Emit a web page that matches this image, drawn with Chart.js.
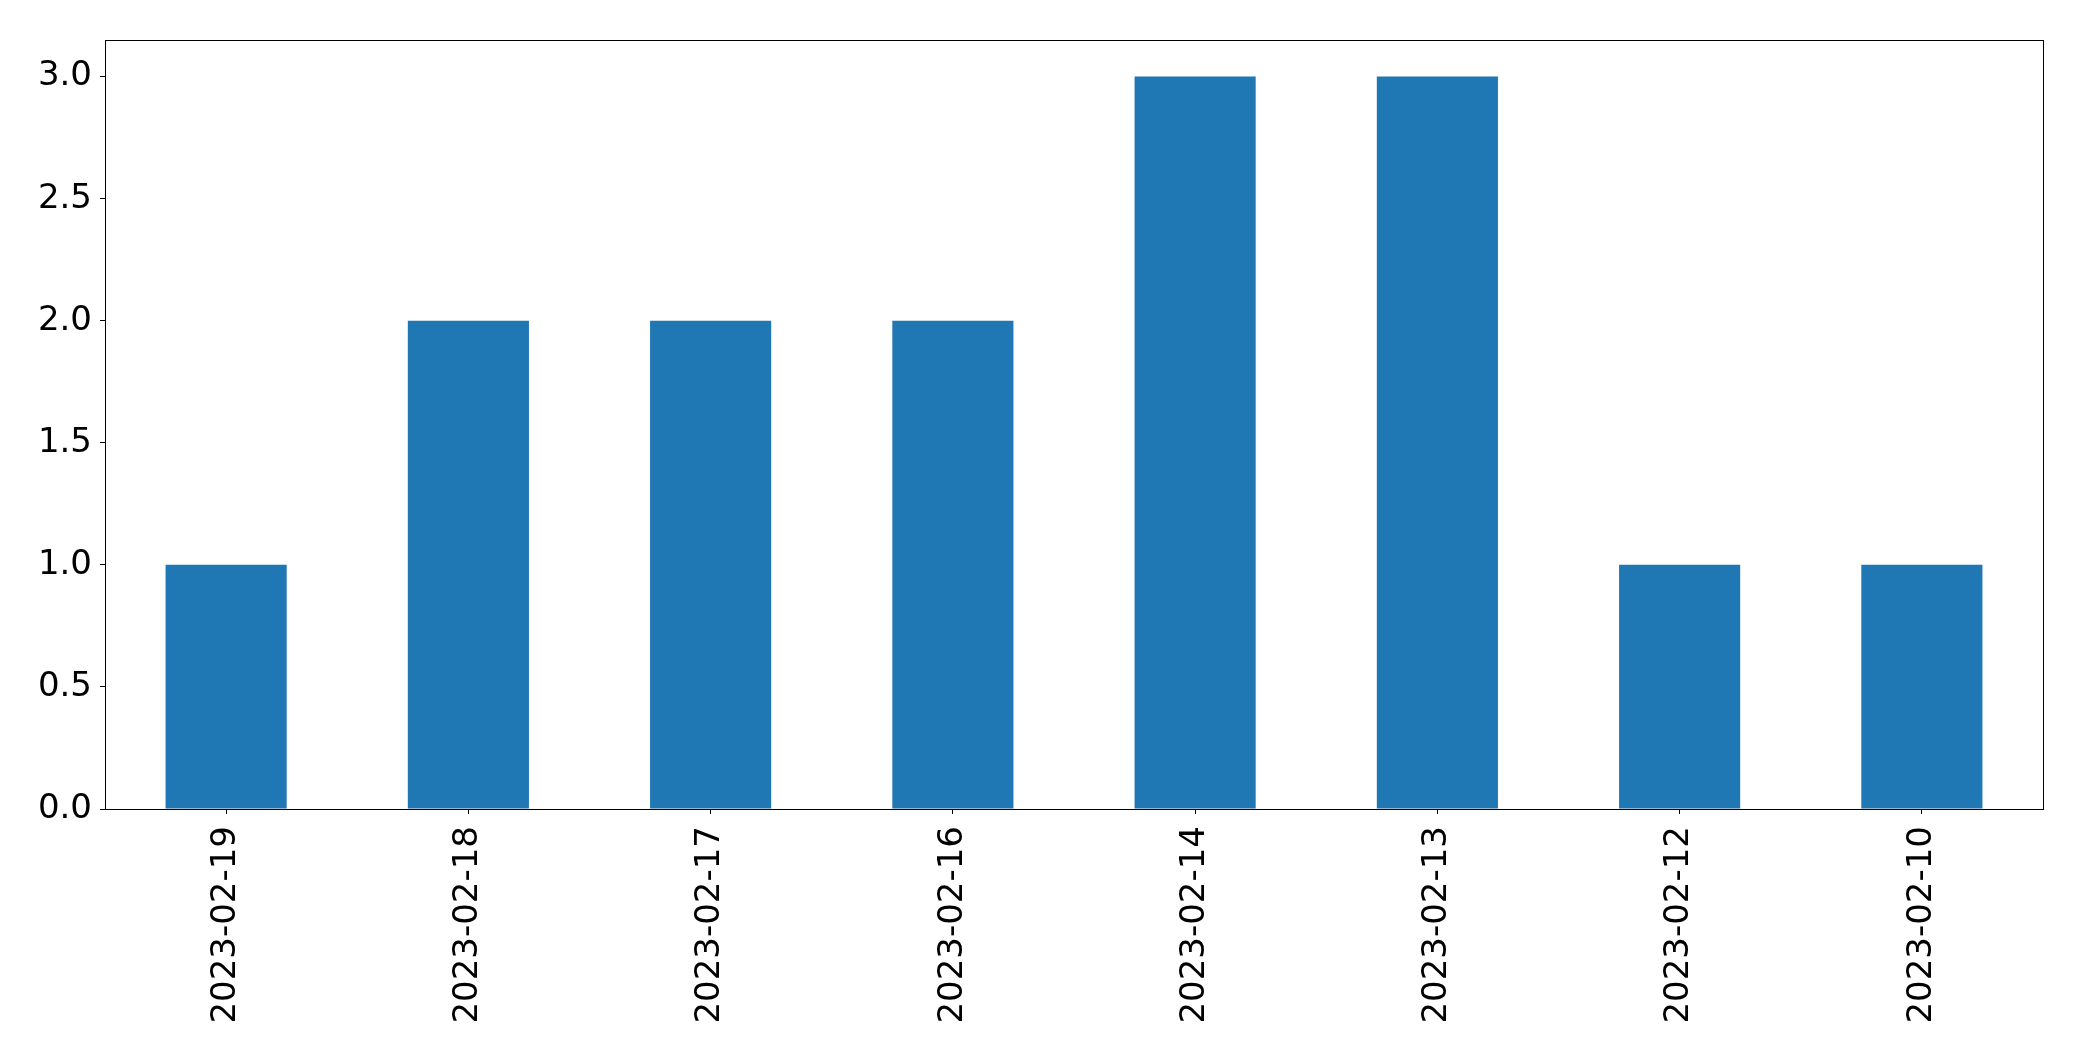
<!DOCTYPE html>
<html>
<head>
<meta charset="utf-8">
<script src="https://cdn.jsdelivr.net/npm/chart.js@4/dist/chart.umd.min.js"></script>
<style>
  html, body { margin: 0; padding: 0; background: #fff; }
  #wrap { width: 2082px; height: 1061px; }
</style>
</head>
<body>
<div id="wrap"><canvas id="chart" width="2082" height="1061"></canvas></div>
<script>
const dates = ['2023-02-19', '2023-02-18', '2023-02-17', '2023-02-16', '2023-02-14', '2023-02-13', '2023-02-12', '2023-02-10'];
const counts = [1, 2, 2, 2, 3, 3, 1, 1];
const yTicks = [0, 0.5, 1, 1.5, 2, 2.5, 3];

// draws the box around the plot like matplotlib does
const frame = {
    id: 'frame',
    afterDraw(chart) {
        const a = chart.chartArea;
        const c = chart.ctx;
        c.save();
        c.strokeStyle = '#000';
        c.lineWidth = 1;
        c.strokeRect(Math.round(a.left) + 0.5, Math.round(a.top) + 0.5, Math.round(a.right - a.left), Math.round(a.bottom - a.top));
        c.restore();
    }
};

const ctx = document.getElementById('chart').getContext('2d');
new Chart(ctx, {
    type: 'bar',
    data: {
        labels: dates,
        datasets: [{
            data: counts,
            backgroundColor: '#1f77b4',
            borderWidth: 0,
            barPercentage: 0.5,
            categoryPercentage: 1
        }]
    },
    options: {
        responsive: false,
        animation: false,
        layout: { padding: { left: 0, top: 40, right: 39, bottom: 0 } },
        plugins: { legend: { display: false }, tooltip: { enabled: false } },
        scales: {
            x: {
                offset: true,
                grid: { drawOnChartArea: false, tickLength: 5, color: '#000', offset: false },
                border: { display: true, color: '#000', width: 1 },
                ticks: {
                    color: '#000',
                    font: { family: 'DejaVu Sans', size: 34 },
                    minRotation: 90,
                    maxRotation: 90,
                    padding: 12
                },
                afterFit(scale) { scale.height = 252; }
            },
            y: {
                min: 0,
                max: 3.15,
                afterBuildTicks(scale) { scale.ticks = yTicks.map(v => ({ value: v })); },
                grid: { drawOnChartArea: false, tickLength: 5, color: '#000' },
                border: { display: true, color: '#000', width: 1 },
                ticks: {
                    color: '#000',
                    font: { family: 'DejaVu Sans', size: 34 },
                    padding: 8,
                    callback: v => Number(v).toFixed(1)
                },
                afterFit(scale) { scale.width = 105; }
            }
        }
    },
    plugins: [frame]
});
</script>
</body>
</html>
